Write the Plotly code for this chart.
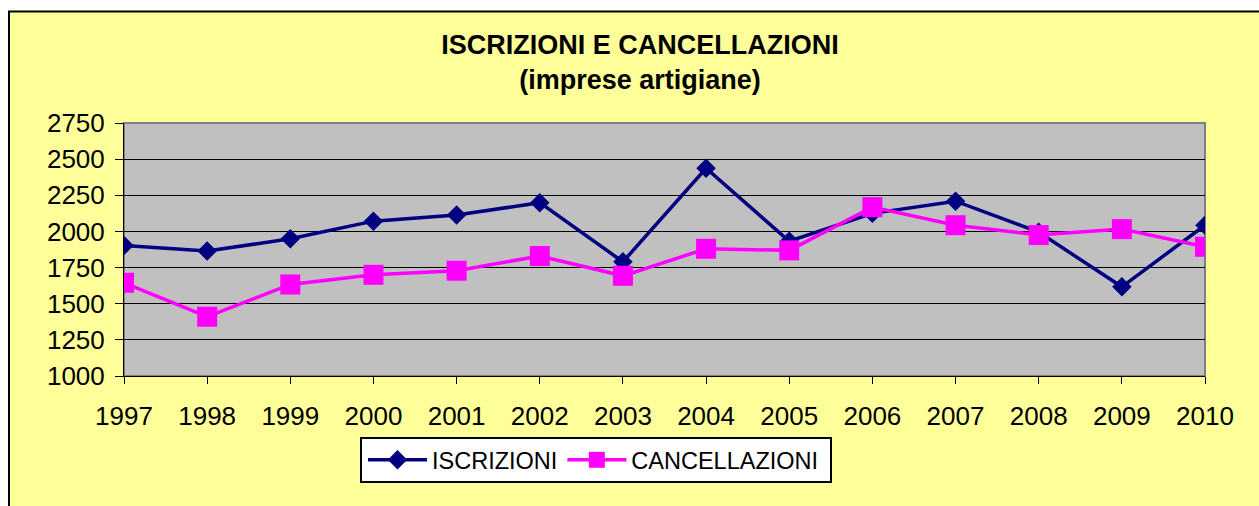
import plotly.graph_objects as go

years = [1997, 1998, 1999, 2000, 2001, 2002, 2003, 2004, 2005, 2006, 2007, 2008, 2009, 2010]
iscrizioni = [1903, 1864, 1949, 2071, 2113, 2199, 1790, 2437, 1932, 2125, 2209, 1995, 1617, 2043]
cancellazioni = [1645, 1410, 1633, 1700, 1728, 1830, 1693, 1880, 1869, 2168, 2043, 1975, 2016, 1894]
y_ticks = [1000, 1250, 1500, 1750, 2000, 2250, 2500, 2750]
title_text = "ISCRIZIONI E CANCELLAZIONI<br>(imprese artigiane)"

W, H = 1259, 506
L, R, T, B = 124, 1259 - 1205, 123, 506 - 376
PW, PH = W - L - R, H - T - B

def px_x(p):
    return (p - L) / PW

def px_y(p):
    return (H - B - p) / PH

FONT = "Arial, Liberation Sans, sans-serif"

fig = go.Figure()
fig.add_trace(go.Scatter(
    x=years, y=iscrizioni, name="ISCRIZIONI", mode="lines+markers",
    line=dict(color="#000080", width=3.5),
    marker=dict(symbol="diamond", size=15, color="#000080"),
))
fig.add_trace(go.Scatter(
    x=years, y=cancellazioni, name="CANCELLAZIONI", mode="lines+markers",
    line=dict(color="#FF00FF", width=3.5),
    marker=dict(symbol="square", size=20, color="#FF00FF"),
))

shapes = [
    # white page strips outside the chart frame
    dict(type="rect", xref="paper", yref="paper", x0=px_x(-5), x1=px_x(1300), y0=px_y(10.5), y1=px_y(-5),
         fillcolor="white", line=dict(width=0), layer="below"),
    dict(type="rect", xref="paper", yref="paper", x0=px_x(-5), x1=px_x(8), y0=px_y(520), y1=px_y(-5),
         fillcolor="white", line=dict(width=0), layer="below"),
    # outer chart border
    dict(type="line", xref="paper", yref="paper", x0=px_x(8), x1=px_x(1300), y0=px_y(11.5), y1=px_y(11.5),
         line=dict(color="black", width=2), layer="below"),
    dict(type="line", xref="paper", yref="paper", x0=px_x(9), x1=px_x(9), y0=px_y(11), y1=px_y(520),
         line=dict(color="black", width=2), layer="below"),
    # plot area frame
    dict(type="rect", xref="paper", yref="paper", x0=0, x1=1, y0=0, y1=1,
         line=dict(color="#808080", width=2), fillcolor="rgba(0,0,0,0)", layer="below"),
    # legend box
    dict(type="rect", xref="paper", yref="paper", x0=px_x(361), x1=px_x(831), y0=px_y(482), y1=px_y(438),
         line=dict(color="black", width=2), fillcolor="white", layer="above"),
]

fig.update_layout(
    width=W, height=H,
    margin=dict(l=L, r=R, t=T, b=B, pad=0),
    paper_bgcolor="#FFFF99",
    plot_bgcolor="#C0C0C0",
    font=dict(family=FONT, color="black"),
    title=dict(text="<b>" + title_text.replace("<br>", "</b><br><b>") + "</b>",
               x=640 / W, xanchor="center", y=1 - 54 / H, yanchor="top",
               font=dict(size=27, family=FONT, color="black")),
    showlegend=True,
    legend=dict(orientation="h", x=px_x(363), xanchor="left", y=px_y(438), yanchor="top",
                bgcolor="rgba(0,0,0,0)", borderwidth=0,
                font=dict(size=23.5, family=FONT, color="black"), itemwidth=59,
                tracegroupgap=0),
    shapes=shapes,
    xaxis=dict(range=[1997, 2010], tickvals=years, ticktext=[str(y) for y in years],
               showgrid=False, zeroline=False, showline=True, linecolor="black", linewidth=1,
               ticks="outside", ticklen=7, tickcolor="black", tickwidth=1,
               tickfont=dict(size=26, family=FONT, color="black"), ticklabelstandoff=10),
    yaxis=dict(range=[1000, 2750], tickvals=y_ticks,
               showgrid=True, gridcolor="black", gridwidth=1, zeroline=False,
               showline=True, linecolor="black", linewidth=1,
               ticks="outside", ticklen=8, tickcolor="black", tickwidth=1,
               tickfont=dict(size=26, family=FONT, color="black"), ticklabelstandoff=5),
)

fig.write_html("out.html", config={"displayModeBar": False},
               post_script="document.body.style.margin='0';document.body.style.overflow='hidden';")
